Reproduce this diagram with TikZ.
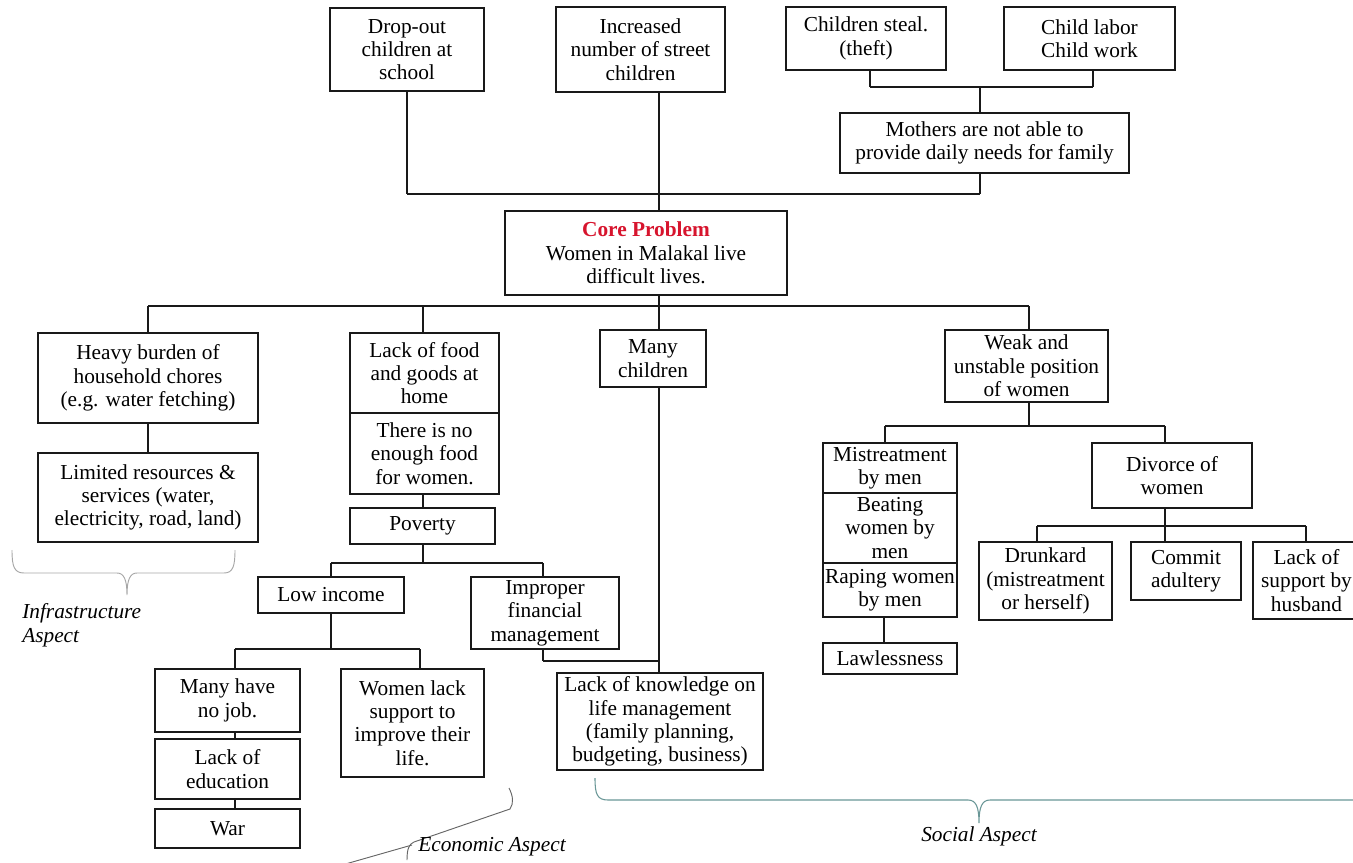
\documentclass[tikz,border=0pt]{standalone}
\usepackage{fontspec}
\setmainfont{Liberation Serif}
\definecolor{coreRed}{RGB}{215,20,45}
\definecolor{socialBrace}{RGB}{105,150,150}
\tikzset{
  box/.style={draw=black!90, fill=white, line width=0.8pt, inner sep=1.5pt,
    align=center, font=\fontsize{16}{17.5}\selectfont},
  link/.style={draw=black!90, line width=0.8pt},
  aspect/.style={font=\fontsize{16}{18}\selectfont\itshape, inner sep=0pt},
  bracegray/.style={draw=black!35, line width=0.7pt},
  braceecon/.style={draw=black!60, line width=0.7pt},
  bracesocial/.style={draw=socialBrace, line width=0.8pt},
}
% box from corner (x1,y1) to corner (x2,y2), in pixel-like units
\newcommand\mkbox[6]{%
  \node[box, minimum width={(#4-#2)*0.75pt}, minimum height={(#5-#3)*0.75pt}]
    (#1) at ({(#2+#4)/2},{(#3+#5)/2}) {#6};}
\begin{document}
\begin{tikzpicture}[x=0.75pt,y=-0.75pt]
\useasboundingbox (0,0) rectangle (1353,863);
\clip (0,0) rectangle (1353,863);

% ---------- junction points of the connector buses ----------
\coordinate (spine) at (659,0);
\coordinate (topL) at (407,194);
\coordinate (topR) at (980,194);
\coordinate (effL) at (870,87);
\coordinate (effR) at (1093,87);
\coordinate (busL) at (148,306);
\coordinate (busR) at (1029,306);
\coordinate (foodX) at (423,0);
\coordinate (povL) at (331,563);
\coordinate (povR) at (543,563);
\coordinate (lowL) at (235,649);
\coordinate (lowR) at (420,649);
\coordinate (fin) at (543,661);
\coordinate (weakL) at (885,426);
\coordinate (weakR) at (1165,426);
\coordinate (divL) at (1037,526);
\coordinate (divR) at (1306,526);
\coordinate (rapeX) at (884,0);

% ---------- connectors ----------
\draw[link] (topL) -- (topR);
\draw[link] (effL) -- (effR);
\draw[link] (busL) -- (busR);
\draw[link] (povL) -- (povR);
\draw[link] (lowL) -- (lowR);
\draw[link] (weakL) -- (weakR);
\draw[link] (divL) -- (divR);
\draw[link] (fin) -- (fin -| spine);

% ---------- effects ----------
\mkbox{drop}{330}{8}{484}{91}{Drop-out\\children at\\school}
\mkbox{street}{556}{7}{725}{92}{Increased\\number of street\\children}
\mkbox{steal}{786}{7}{946}{70}{Children steal.\\(theft)}
\mkbox{labor}{1004}{7}{1175}{70}{Child labor\\Child work}
\mkbox{mothers}{840}{113}{1129}{173}{Mothers are not able to\\provide daily needs for family}

% ---------- core problem ----------
\mkbox{core}{505}{211}{787}{295}{{\color{coreRed}\bfseries Core Problem}\\Women in Malakal live\\difficult lives.}

% ---------- causes ----------
\mkbox{heavy}{38}{333}{258}{423}{Heavy burden of\\household chores\\(e.g. water fetching)}
\mkbox{limited}{38}{453}{258}{542}{Limited resources \&\\services (water,\\electricity, road, land)}
\mkbox{food}{350}{333}{499}{413}{Lack of food\\and goods at\\home}
\mkbox{nofood}{350}{413}{499}{494}{There is no\\enough food\\for women.}
\mkbox{poverty}{350}{508}{495}{544}{Poverty}
\mkbox{many}{600}{330}{706}{387}{Many\\children}
\mkbox{weak}{945}{330}{1108}{402}{Weak and\\unstable position\\of women}
\mkbox{low}{258}{577}{404}{613}{Low income}
\mkbox{improper}{471}{577}{619}{649}{Improper\\financial\\management}
\mkbox{nojob}{155}{669}{300}{732}{Many have\\no job.}
\mkbox{edu}{155}{739}{300}{799}{Lack of\\education}
\mkbox{war}{155}{809}{300}{848}{War}
\mkbox{wlack}{341}{669}{484}{777}{Women lack\\support to\\improve their\\life.}
\mkbox{know}{557}{673}{763}{770}{Lack of knowledge on\\life management\\(family planning,\\budgeting, business)}
\mkbox{mistreat}{823}{443}{957}{493}{Mistreatment\\by men}
\mkbox{beat}{823}{493}{957}{563}{Beating\\women by\\men}
\mkbox{rape}{823}{563}{957}{617}{Raping women\\by men}
\mkbox{lawless}{823}{643}{957}{674}{Lawlessness}
\mkbox{divorce}{1092}{443}{1252}{508}{Divorce of\\women}
\mkbox{drunk}{979}{542}{1112}{620}{Drunkard\\(mistreatment\\or herself)}
\mkbox{commit}{1131}{542}{1241}{600}{Commit\\adultery}
\mkbox{support}{1253}{542}{1360}{619}{Lack of\\support by\\husband}

% ---------- vertical drops ----------
\draw[link] (drop.south -| topL) -- (topL);
\draw[link] (mothers.south -| topR) -- (topR);
\draw[link] (street.south -| spine) -- (core.north -| spine);
\draw[link] (steal.south -| effL) -- (effL);
\draw[link] (labor.south -| effR) -- (effR);
\draw[link] (effL -| topR) -- (mothers.north -| topR);
\draw[link] (core.south -| spine) -- (many.north -| spine);
\draw[link] (many.south -| spine) -- (know.north -| spine);
\draw[link] (busL) -- (heavy.north -| busL);
\draw[link] (busL -| foodX) -- (food.north -| foodX);
\draw[link] (busR) -- (weak.north -| busR);
\draw[link] (heavy.south) -- (limited.north);
\draw[link] (nofood.south -| foodX) -- (poverty.north -| foodX);
\draw[link] (poverty.south -| foodX) -- (povL -| foodX);
\draw[link] (povL) -- (low.north -| povL);
\draw[link] (povR) -- (improper.north -| povR);
\draw[link] (low.south -| povL) -- (povL |- lowL);
\draw[link] (lowL) -- (nojob.north -| lowL);
\draw[link] (lowR) -- (wlack.north -| lowR);
\draw[link] (nojob.south -| lowL) -- (edu.north -| lowL);
\draw[link] (edu.south -| lowL) -- (war.north -| lowL);
\draw[link] (improper.south -| fin) -- (fin);
\draw[link] (weak.south -| busR) -- (busR |- weakL);
\draw[link] (weakL) -- (mistreat.north -| weakL);
\draw[link] (weakR) -- (divorce.north -| weakR);
\draw[link] (rape.south -| rapeX) -- (lawless.north -| rapeX);
\draw[link] (divorce.south -| weakR) -- (commit.north -| weakR);
\draw[link] (divL) -- (drunk.north -| divL);
\draw[link] (divR) -- (support.north -| divR);

% ---------- aspect braces ----------
\draw[bracegray] (12,550) .. controls (12,566) and (14,573) .. (24,573) -- (117,573)
  .. controls (124,573) and (127,580) .. (127,595)
  .. controls (127,580) and (130,573) .. (137,573) -- (224,573)
  .. controls (233,573) and (235,566) .. (235,550);
\node[aspect, anchor=north west, align=left] (infra) at (22,603) {Infrastructure\\Aspect};

\draw[braceecon] (509,788) .. controls (513,796) and (514,803) .. (510,809)
  -- (414,842) .. controls (409,844) and (407,849) .. (407,860);
\draw[braceecon] (412,845) -- (300,877);
\node[aspect] (econ) at (492,847) {Economic Aspect};

\draw[bracesocial] (595,778) .. controls (595,794) and (597,800) .. (608,800) -- (968,800)
  .. controls (976,800) and (979,807) .. (979,823)
  .. controls (979,807) and (982,800) .. (990,800) -- (1360,800);
\node[aspect] (social) at (979,836) {Social Aspect};
\end{tikzpicture}
\end{document}
